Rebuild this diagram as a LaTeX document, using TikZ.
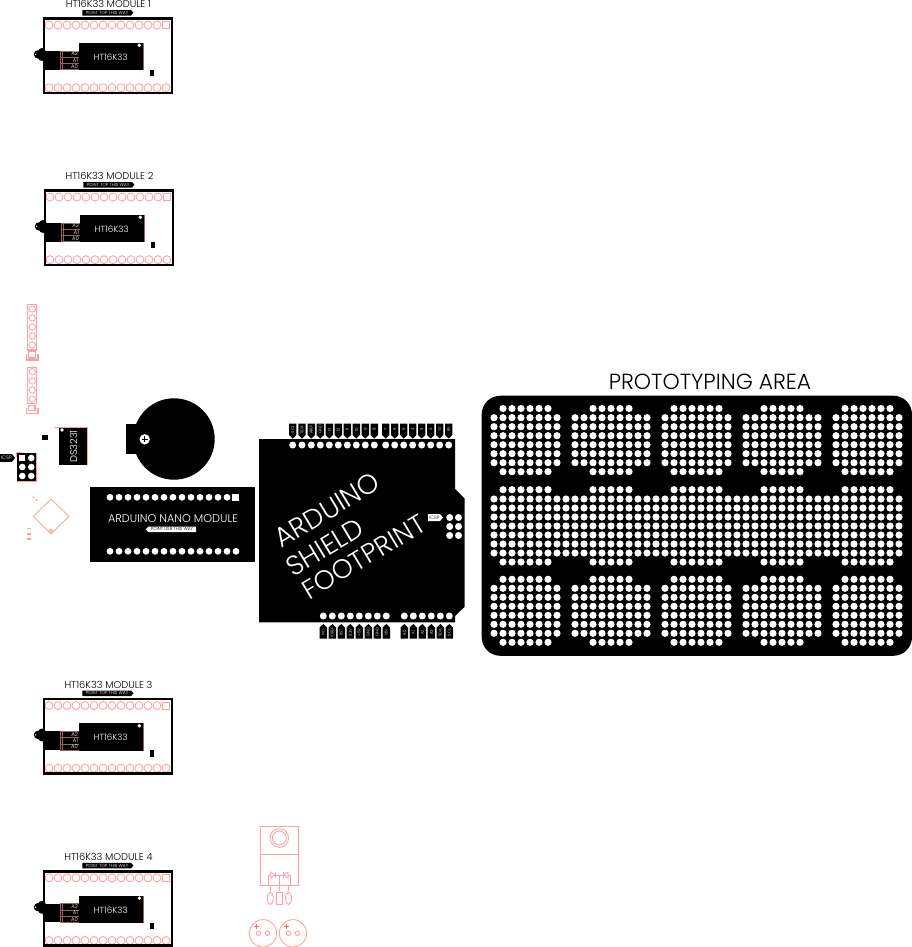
\documentclass[tikz,border=0pt]{standalone}
\usepackage{fontspec}
\setmainfont{Poppins Light}
\definecolor{pnk}{HTML}{FFA0A0}
\tikzset{
  pl/.style={draw=pnk,line width=0.65pt},
  pd/.style={draw=pnk!60!black,line width=0.3pt},
  lbl/.style={inner sep=0pt,outer sep=0pt,text=black},
  wlbl/.style={inner sep=0pt,outer sep=0pt,text=white},
}
\newcommand{\fs}[1]{\fontsize{#1}{#1}\selectfont}
\newcommand{\hmodule}[4]{% name, dx, dy, title
\begin{scope}[shift={(#2,#3)}]
  \node[lbl] (#1title) at (108.5,4.2) {\fs{7.4}#4};
  \fill (82.3,10) -- (131,10) -- (133.5,12.8) -- (131,15.6) -- (82.3,15.6) -- cycle;
  \node[wlbl] (#1tag) at (107,12.8) {\fs{3.3}POINT TOP THIS WAY};
  \foreach \i in {0,...,12} \draw[pl] (49+9*\i,25) circle (4);
  \draw[pl] (162.3,21.5) rectangle (169,28.5);
  \foreach \i in {0,...,13} \draw[pl] (49+9*\i,87.7) circle (4);
  \draw[line width=1.9pt] (44,18.7) rectangle (172,92.8);
  \fill (79,42.7) rectangle (142.7,70);
  \fill (44,50.7) rectangle (79,69.5);
  \fill[rounded corners=3] (38,48) -- (46,48) -- (46,61) -- (38,61) -- cycle;
  \fill (38,54.4) circle (4.2);
  \fill[white] (35.6,54.4) circle (0.8);
  \draw[pd] (60,50.7) -- (60,69.5) (62,50.7) -- (62,69.5);
  \draw[pd] (60,50.7) -- (79,50.7) (60,57) -- (79,57) (60,63.3) -- (79,63.3) (60,69.5) -- (79,69.5);
  \draw[pd] (142.7,42.7) -- (142.7,70);
  \node[wlbl,anchor=east] (#1a) at (78,53.9) {\fs{4}A2};
  \node[wlbl,anchor=east] (#1b) at (78,60.2) {\fs{4}A1};
  \node[wlbl,anchor=east] (#1c) at (78,66.5) {\fs{4}A0};
  \node[wlbl] (#1ic) at (110.7,57) {\fs{6.6}HT16K33};
  \fill[white] (139.3,45.3) circle (1.9);
  \fill (150,69.7) rectangle (154,76);
\end{scope}}
\newcommand{\toptag}[2]{%
  \fill (#1-3.7,423.5) -- (#1+3.7,423.5) -- (#1+3.7,435) -- (#1,438.5) -- (#1-3.7,435) -- cycle;
  \node[wlbl,rotate=90] at (#1,429.5) {\fs{3}#2};
  \fill[white] (#1,445) circle (3.5);}
\newcommand{\bottag}[2]{%
  \fill (#1-3.7,638.5) -- (#1+3.7,638.5) -- (#1+3.7,627.5) -- (#1,624) -- (#1-3.7,627.5) -- cycle;
  \node[wlbl,rotate=90] at (#1,632.5) {\fs{3}#2};
  \fill[white] (#1,616) circle (3.5);}
\begin{document}
\begin{tikzpicture}[x=0.75pt,y=-0.75pt]
\useasboundingbox (0,0) rectangle (912,947);
\fill[white] (0,0) rectangle (912,947);
% modules
\hmodule{ma}{0}{0}{HT16K33 MODULE 1}
\hmodule{mb}{1}{172}{HT16K33 MODULE 2}
\hmodule{mc}{0}{680.5}{HT16K33 MODULE 3}
\hmodule{md}{0}{852.8}{HT16K33 MODULE 4}
% headers
\draw[pl,line width=0.9pt] (27.7,304.7) rectangle (36.7,350);
\foreach \y in {309,318,327,336,345} \draw[pl] (32.2,\y) circle (3.2);
\draw[pl,line width=0.9pt] (28.5,351) rectangle (35.8,358);
\draw[pl,line width=0.9pt] (26.3,354) -- (26.3,360) -- (38,360) -- (38,354);
\draw[pl,line width=0.9pt] (27.7,367.3) rectangle (36.7,403.3);
\foreach \y in {371.7,381,390,399.3} \draw[pl] (32.2,\y) circle (3.2);
\draw[pl,line width=0.9pt] (28.7,405.3) rectangle (35,410.3);
\draw[pl,line width=0.9pt] (26.3,408) -- (26.3,413.5) -- (38,413.5) -- (38,408);
% DS3231
\fill (59.3,426.7) rectangle (87.3,464.7);
\draw[pl] (54,427) -- (87.3,427) -- (87.3,464.7);
\fill[white] (62,430) circle (1.8);
\node[wlbl,rotate=90,text=white] (ds) at (73.5,446.5) {\fs{7.4}DS3231};
\fill (42.3,435) rectangle (47.7,439.7);
% ICSP
\fill (17.3,453.3) rectangle (36,481.3);
\draw[pl] (36,453.3) -- (36,481.3) -- (17.3,481.3);
\draw[pl,line width=0.9pt] (16.5,457) -- (16.5,452.3) -- (22,452.3);
\fill[white] (19.2,454.9) rectangle (25.4,461.1);
\foreach \p in {(31.3,458),(22.3,467),(31.3,467),(22.3,476),(31.3,476)} \fill[white] \p circle (3.3);
\fill (0,454.2) -- (12,454.2) -- (15,458) -- (12,461.8) -- (0,461.8) -- cycle;
\node[wlbl] (icspl) at (6.5,458) {\fs{3.8}ICSP};
% diamond
\draw[pl] (51,499) -- (69,516.4) -- (51,533.7) -- (33.3,516.4) -- cycle;
\draw[pl] (51,530.7) circle (1.8);
\draw[pl] (32.5,496.5) -- (34.5,498) (35.5,499.5) -- (37.5,501);
\draw[pl,line width=1pt] (27,528.5) -- (30.5,528.5) (27,534) -- (30.5,534) (27,539) -- (30.5,539);
% battery
\fill (174,439) circle (40.7);
\fill (126.3,424) rectangle (146,453.7);
\fill[white] (144.7,439.3) circle (5.2);
\draw[line width=0.8pt] (141.7,439.3) -- (147.7,439.3) (144.7,436.3) -- (144.7,442.3);
% nano
\fill (90,487.3) rectangle (255,561.7);
\foreach \i in {0,...,13} \fill[white] (110+9*\i,497.3) circle (3.4);
\fill[white] (232.3,494) rectangle (238.8,500.6);
\foreach \i in {0,...,14} \fill[white] (110+9*\i,551.3) circle (3.4);
\node[wlbl] (nano) at (173,519) {\fs{8.4}ARDUINO NANO MODULE};
\fill[white] (145.7,529.3) -- (148.5,526.6) -- (196,526.6) -- (196,532) -- (148.5,532) -- cycle;
\node[lbl] (usb) at (172,529.3) {\fs{3.3}POINT USB THIS WAY};
% shield
\fill (259,439) -- (455,439) -- (455,489) -- (464.7,498.5) -- (464.7,606.7) -- (455,616) -- (455,622.3) -- (259,622.3) -- cycle;
\foreach \x/\t in {292.7/SCL,302/SDA,311.3/AREF,320.3/GND,329.3/13,338.3/12,347.3/11,356.3/10,365.3/9,374.3/8,385.7/7,394.7/6,403.7/5,412.7/4,421.7/3,430.7/2,439.7/TX,448.7/RX} {\toptag{\x}{\t}}
\foreach \x/\t in {323.3/NC,332.3/IOREF,341.3/RST,350.3/3.3V,359.3/+5V,368.3/GND,377.3/GND,386.3/VIN,404.3/A0,413.3/A1,422.3/A2,431.3/A3,440.3/SDA,449.3/SCL} {\bottag{\x}{\t}}
\foreach \y in {517.5,526.5,535.5} \foreach \x in {449.7,458.5} \fill[white] (\x,\y) circle (3.5);
\fill[white] (428,514) -- (440,514) -- (443,517.5) -- (440,521) -- (428,521) -- cycle;
\node[lbl] (icsps) at (434.5,517.5) {\fs{3.6}ICSP};
\node[wlbl,rotate=31] (s1) at (327,510) {\fs{20.5}ARDUINO};
\node[wlbl,rotate=31] (s2) at (325,547) {\fs{20.5}SHIELD};
\node[wlbl,rotate=31] (s3) at (364,557) {\fs{20}FOOTPRINT};
% prototyping
\node[lbl] (ptitle) at (710,382) {\fs{16.4}PROTOTYPING AREA};
\fill[rounded corners=14pt] (481.7,395.7) rectangle (912,655.8);
\foreach \i in {0,...,7,9,10,...,17,19,20,...,26,28,29,...,36,38,39,...,45} \foreach \y in {417.7,426.7,435.7,444.7,453.7,462.7,588.3,597.3,606.3,615.3,624.3,633.3}
  \fill[white] (494+9*\i,\y) circle (3.6);
\foreach \i in {0,...,45} \foreach \y in {499,508,517,526,535,544,553}
  \fill[white] (494+9*\i,\y) circle (3.6);
\foreach \i in {1,...,6,11,12,...,15,20,21,...,25,30,31,...,34,39,40,...,44} \foreach \y in {408.5,471.7,489.7,562,579.3,642.3}
  \fill[white] (494+9*\i,\y) circle (3.6);
% regulator
\draw[pl] (260.3,826.3) rectangle (298.3,885);
\draw[pl,line width=0.9pt] (260.3,854.7) -- (298.3,854.7);
\draw[pl] (279.3,838) circle (9.3) (279.3,838) circle (7);
\draw[pl] (268,885) -- (268,875) -- (290,875) -- (290,885) (279.3,875) -- (279.3,885);
\draw[pl,fill=white] (270.7,872) -- (270.7,878) -- (274.7,875) -- cycle;
\draw[pl] (275,872) -- (275,878);
\draw[pl,fill=white] (288,872) -- (288,878) -- (284,875) -- cycle;
\draw[pl] (283.6,872) -- (283.6,878);
\draw[pl] (270.3,885) -- (270.3,891) (279.3,885) -- (279.3,891) (288.5,885) -- (288.5,891);
\draw[pl] (270.3,898.3) ellipse (3 and 6.2);
\draw[pl] (276.3,892) rectangle (282.7,904.7);
\draw[pl] (288.5,898.3) ellipse (3 and 6.2);
\foreach \c in {263,293} {
  \draw[pl] (\c,933.3) circle (13.7);
  \draw[pl] (\c-4.5,933.3) circle (2.2) (\c+4.5,933.3) circle (2.2);
  \draw[draw=red!60!white,line width=.4pt] (\c-9.5,926.7) -- (\c-4.5,926.7) (\c-7,924.2) -- (\c-7,929.2);
}
\end{tikzpicture}
\end{document}
